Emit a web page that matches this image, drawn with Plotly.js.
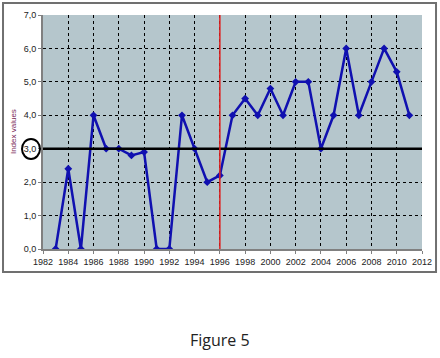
<!DOCTYPE html>
<html>
<head>
<meta charset="utf-8">
<script src="https://cdn.plot.ly/plotly-3.0.1.min.js"></script>
<style>html,body{margin:0;padding:0;background:#fff;}#chart{width:440px;height:358px;}</style>
</head>
<body>
<div id="chart"></div>
<script>
const years = [1983,1984,1985,1986,1987,1988,1989,1990,1991,1992,1993,1994,1995,1996,1997,1998,1999,2000,2001,2002,2003,2004,2005,2006,2007,2008,2009,2010,2011];
const indexValues = [0,2.4,0,4.0,3.0,3.0,2.8,2.9,0,0,4.0,3.0,2.0,2.2,4.0,4.5,4.0,4.8,4.0,5.0,5.0,3.0,4.0,6.0,4.0,5.0,6.0,5.3,4.0];
const xTicks = [1982,1984,1986,1988,1990,1992,1994,1996,1998,2000,2002,2004,2006,2008,2010,2012];
const yTicks = [0,1,2,3,4,5,6,7];
const yTickLabels = ['0,0','1,0','2,0','3,0','4,0','5,0','6,0','7,0'];
const referenceLevel = 3.0;
const breakYear = 1996;

const trace = {
  x: years, y: indexValues, type: 'scatter', mode: 'lines+markers',
  line: {color: '#1010b0', width: 2.5},
  marker: {symbol: 'diamond', size: 6, color: '#1010b0'},
  hoverinfo: 'skip'
};

const layout = {
  width: 440, height: 358,
  margin: {l: 43, r: 18, t: 15, b: 109},
  paper_bgcolor: '#ffffff',
  plot_bgcolor: '#b5c6cc',
  showlegend: false,
  font: {family: 'Liberation Sans, Arial, sans-serif', size: 9, color: '#222'},
  xaxis: {
    range: [1982, 2012], tickvals: xTicks, ticktext: xTicks.map(String),
    showgrid: true, gridcolor: '#000', griddash: 'dot', gridwidth: 1,
    showline: true, linecolor: '#808080', linewidth: 2,
    ticks: 'outside', ticklen: 3, tickcolor: '#808080',
    zeroline: false, fixedrange: true
  },
  yaxis: {
    range: [0, 7], tickvals: yTicks, ticktext: yTickLabels,
    showgrid: true, gridcolor: '#000', griddash: 'dot', gridwidth: 1,
    showline: true, linecolor: '#808080', linewidth: 2,
    ticks: 'outside', ticklen: 3, tickcolor: '#808080',
    zeroline: false, fixedrange: true
  },
  shapes: [
    {type: 'rect', xref: 'paper', yref: 'paper', x0: -0.1055, x1: 1.037, y0: -0.098, y1: 1.051,
     line: {color: '#707070', width: 2}, fillcolor: 'rgba(0,0,0,0)', layer: 'below'},
    {type: 'line', xref: 'paper', yref: 'y', x0: 0, x1: 1, y0: referenceLevel, y1: referenceLevel,
     line: {color: '#000', width: 2.5}},
    {type: 'line', xref: 'x', yref: 'paper', x0: breakYear, x1: breakYear, y0: 0, y1: 1,
     line: {color: '#e02020', width: 1.5}},
    {type: 'circle', xref: 'paper', yref: 'paper', x0: -0.0554, x1: -0.0079, y0: 0.385, y1: 0.470,
     line: {color: '#000', width: 2}}
  ],
  annotations: [
    {text: 'Index values', xref: 'paper', yref: 'paper', x: -0.079, y: 0.5, textangle: -90,
     showarrow: false, font: {size: 8, color: '#7a2a5a'}, xanchor: 'center', yanchor: 'middle'},
    {text: 'Figure 5', xref: 'paper', yref: 'paper', x: 0.468, y: -0.389, showarrow: false,
     font: {family: 'Open Sans, sans-serif', size: 16, color: '#222'}, xanchor: 'center', yanchor: 'middle'}
  ]
};

Plotly.newPlot('chart', [trace], layout, {displayModeBar: false, staticPlot: true});
</script>
</body>
</html>
